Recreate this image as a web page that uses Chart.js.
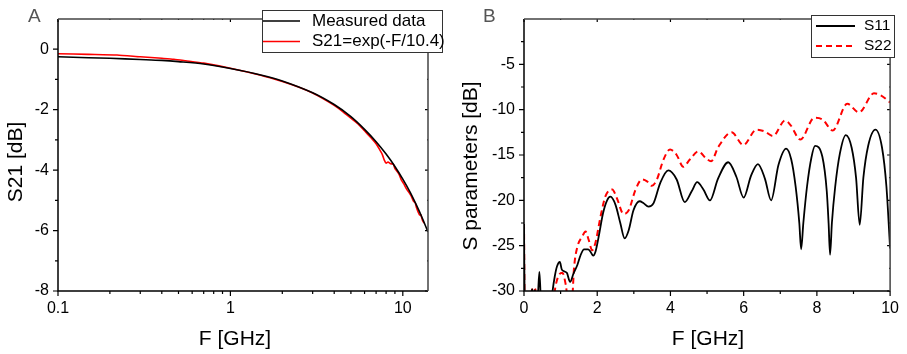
<!DOCTYPE html>
<html>
<head>
<meta charset="utf-8">
<title>S parameters</title>
<script src="https://cdn.jsdelivr.net/npm/chart.js@4.4.1/dist/chart.umd.min.js"></script>
<style>
    body { margin: 0; background: #fff; }
    #wrap { position: relative; width: 907px; height: 354px; }
    canvas { position: absolute; top: 0; }
    #chartA { left: 0; }
    #chartB { left: 453px; }
</style>
</head>
<body>
<div id="wrap">
    <canvas id="chartA" width="453" height="354"></canvas>
    <canvas id="chartB" width="454" height="354"></canvas>
</div>
<script>
// Panel A - S21 vs F (log axis)
var aFreq = [0.1, 0.15, 0.2, 0.3, 0.4, 0.5, 0.7, 1, 1.5, 2, 3, 4, 5, 6, 7, 8, 9, 10, 11, 12, 13, 14];
var aMeasured = [-0.25, -0.28, -0.30, -0.34, -0.37, -0.41, -0.49, -0.64, -0.85, -1.05, -1.44, -1.83, -2.23, -2.65, -3.06, -3.47, -3.88, -4.30, -4.72, -5.16, -5.60, -6.05];
var aFitFreq = [0.1, 0.15, 0.22, 0.3, 0.4, 0.47, 0.55, 0.7, 1, 1.5, 2, 2.5, 3, 3.5, 4, 4.5, 5, 5.5, 6, 6.5, 7, 7.3, 7.6, 7.8, 8.0, 8.2, 8.5, 8.8, 9.0, 9.2, 9.5, 9.8, 10.1, 10.5, 10.8, 11.2, 11.5, 11.8, 12.0, 12.3, 12.5, 12.7, 12.9, 13.1, 13.3];
var aFit = [-0.15, -0.17, -0.19, -0.25, -0.30, -0.33, -0.38, -0.46, -0.63, -0.86, -1.07, -1.26, -1.45, -1.66, -1.86, -2.07, -2.28, -2.47, -2.70, -2.91, -3.13, -3.30, -3.48, -3.66, -3.77, -3.73, -3.79, -3.80, -3.95, -4.02, -4.13, -4.32, -4.44, -4.62, -4.72, -4.86, -5.02, -5.08, -5.24, -5.40, -5.48, -5.47, -5.60, -5.70, -5.75];
var aXTicks = [0.1, 1, 10];
var aXMinor = [0.2, 0.3, 0.4, 0.5, 0.6, 0.7, 0.8, 0.9, 2, 3, 4, 5, 6, 7, 8, 9];
var aYTicks = [-8, -6, -4, -2, 0];
var aYMinor = [-7, -5, -3, -1];

// Panel B - S11 / S22 vs F
var bFreq11 = [0, 0.02, 0.1, 0.18, 0.22, 0.26, 0.3, 0.34, 0.38, 0.42, 0.46, 0.52, 0.65, 0.78, 0.84, 0.9, 0.98, 1.03, 1.08, 1.17, 1.26, 1.35, 1.46, 1.55, 1.64, 1.75, 1.82, 1.89, 1.95, 2.04, 2.16, 2.27, 2.36, 2.5, 2.63, 2.75, 2.86, 2.99, 3.16, 3.26, 3.4, 3.54, 3.72, 3.94, 4.17, 4.39, 4.58, 4.73, 4.9, 5.08, 5.3, 5.58, 5.8, 6.0, 6.2, 6.39, 6.58, 6.75, 6.95, 7.16, 7.3, 7.42, 7.52, 7.57, 7.63, 7.73, 7.85, 7.95, 8.15, 8.27, 8.32, 8.36, 8.41, 8.5, 8.63, 8.79, 8.95, 9.07, 9.17, 9.27, 9.4, 9.6, 9.78, 9.9, 10.0];
var bS11 = [-22.6, -32, -33, -31, -29.8, -30.5, -29.9, -31.5, -30.5, -27.9, -31, -34, -35, -30, -28.4, -27.3, -26.8, -27.6, -27.8, -28.0, -29.0, -28.1, -27.1, -26.0, -25.4, -25.4, -25.7, -26.1, -25.7, -24.0, -21.4, -20.0, -19.6, -20.5, -22.5, -24.2, -23.3, -21.1, -20.1, -20.3, -20.7, -20.3, -18.1, -16.7, -17.7, -20.2, -19.0, -18.0, -18.8, -20.0, -17.6, -15.8, -17.4, -19.7, -17.3, -16.0, -17.6, -20.0, -16.1, -14.3, -15.5, -18.5, -22.5, -25.4, -22.5, -18.5, -15.3, -14.0, -15.2, -19.0, -22.5, -26.0, -22.5, -18.5, -14.8, -12.8, -14.2, -17.5, -22.7, -17.5, -14.0, -12.2, -14.2, -18.5, -25.3];
var bFreq22 = [0, 0.02, 0.1, 0.18, 0.22, 0.27, 0.31, 0.35, 0.5, 0.8, 0.87, 0.96, 1.05, 1.14, 1.22, 1.3, 1.37, 1.46, 1.59, 1.68, 1.77, 1.86, 1.95, 2.09, 2.22, 2.41, 2.54, 2.72, 2.86, 3.04, 3.22, 3.36, 3.49, 3.63, 3.81, 3.99, 4.17, 4.35, 4.53, 4.76, 4.98, 5.11, 5.31, 5.67, 5.99, 6.35, 6.57, 6.8, 7.13, 7.28, 7.55, 7.93, 8.16, 8.43, 8.83, 9.15, 9.56, 9.74, 10.0];
var bS22 = [-22.6, -32, -33, -31, -29.8, -30.3, -29.8, -31, -34, -31, -29.3, -28.2, -28.0, -29.3, -31.5, -31.5, -27.3, -25.1, -24.0, -23.45, -24.4, -25.5, -24.7, -21.8, -19.6, -18.8, -19.8, -21.5, -21.1, -18.9, -17.7, -17.9, -18.4, -17.7, -15.5, -14.4, -15.0, -16.3, -15.5, -14.6, -15.4, -15.7, -14.1, -12.5, -13.9, -12.2, -12.4, -12.9, -11.2, -11.7, -13.3, -10.9, -11.1, -12.3, -9.35, -10.3, -8.2, -8.4, -9.2];
var bXTicks = [0, 2, 4, 6, 8, 10];
var bXMinor = [1, 3, 5, 7, 9];
var bYTicks = [-30, -25, -20, -15, -10, -5];
var bYMinor = [-27.5, -22.5, -17.5, -12.5, -7.5, -2.5];

Chart.defaults.font.family = 'Liberation Sans, Arial, sans-serif';
Chart.defaults.font.size = 16;
Chart.defaults.color = '#000';

function pts(xs, ys) {
    return xs.map(function(x, i) { return { x: x, y: ys[i] }; });
}

function fixTicks(values) {
    return function(scale) {
        scale.ticks = values.map(function(v) { return { value: v }; });
    };
}

function fixWidth(w) {
    return function(scale) { scale.width = w; };
}

function fixHeight(h) {
    return function(scale) { scale.height = h; };
}

// frame, minor ticks, axis titles, legend box and panel letter
var framePlugin = {
    id: 'frame',
    afterDatasetsDraw: function(chart, args, opts) {
        var ctx = chart.ctx;
        var area = chart.chartArea;
        var xs = chart.scales.x, ys = chart.scales.y;
        ctx.save();

        // ticks
        ctx.strokeStyle = '#000';
        ctx.lineWidth = 1.2;
        function xTick(v, len) {
            var p = xs.getPixelForValue(v);
            ctx.beginPath();
            ctx.moveTo(p, area.bottom);
            ctx.lineTo(p, area.bottom + len);
            ctx.moveTo(p, area.top);
            ctx.lineTo(p, area.top + len - 2);
            ctx.stroke();
        }
        function yTick(v, len) {
            var p = ys.getPixelForValue(v);
            ctx.beginPath();
            ctx.moveTo(area.left, p);
            ctx.lineTo(area.left - len, p);
            ctx.moveTo(area.right, p);
            ctx.lineTo(area.right - len + 2, p);
            ctx.stroke();
        }
        opts.xMajor.forEach(function(v) { xTick(v, 5); });
        opts.xMinor.forEach(function(v) { xTick(v, 3); });
        opts.yMajor.forEach(function(v) { yTick(v, 5); });
        opts.yMinor.forEach(function(v) { yTick(v, 3); });

        // frame
        ctx.lineWidth = 1.5;
        ctx.strokeStyle = '#000';
        ctx.beginPath();
        ctx.moveTo(area.left, area.top);
        ctx.lineTo(area.left, area.bottom);
        ctx.lineTo(area.right, area.bottom);
        ctx.stroke();
        ctx.strokeStyle = '#444';
        ctx.beginPath();
        ctx.moveTo(area.left, area.top);
        ctx.lineTo(area.right, area.top);
        ctx.lineTo(area.right, area.bottom);
        ctx.stroke();

        // legend
        var lg = opts.legend;
        ctx.fillStyle = '#fff';
        ctx.fillRect(lg.x, lg.y, lg.w, lg.h);
        ctx.lineWidth = 1;
        ctx.strokeStyle = '#333';
        ctx.strokeRect(lg.x + 0.5, lg.y + 0.5, lg.w, lg.h);
        ctx.font = lg.font + 'px Liberation Sans, Arial, sans-serif';
        ctx.textBaseline = 'middle';
        ctx.textAlign = 'left';
        chart.data.datasets.forEach(function(ds, i) {
            var y = lg.rows[i];
            ctx.strokeStyle = ds.borderColor;
            ctx.lineWidth = ds.borderWidth;
            ctx.setLineDash(ds.borderDash || []);
            ctx.beginPath();
            ctx.moveTo(lg.x1, y);
            ctx.lineTo(lg.x2, y);
            ctx.stroke();
            ctx.setLineDash([]);
            ctx.fillStyle = '#000';
            ctx.fillText(ds.label, lg.tx, y);
        });

        // axis titles
        ctx.fillStyle = '#000';
        ctx.font = '21px Liberation Sans, Arial, sans-serif';
        ctx.textAlign = 'center';
        ctx.fillText(opts.xTitle, opts.xTitlePos[0], opts.xTitlePos[1]);
        ctx.save();
        ctx.translate(opts.yTitlePos[0], opts.yTitlePos[1]);
        ctx.rotate(-Math.PI / 2);
        ctx.fillText(opts.yTitle, 0, 0);
        ctx.restore();

        // panel letter
        ctx.fillStyle = '#555';
        ctx.font = '19px Liberation Sans, Arial, sans-serif';
        ctx.textAlign = 'left';
        ctx.textBaseline = 'alphabetic';
        ctx.fillText(opts.letter, opts.letterPos[0], opts.letterPos[1]);
        ctx.restore();
    }
};

var chartA = new Chart(document.getElementById('chartA'), {
    type: 'line',
    data: {
        datasets: [{
            label: 'Measured data',
            data: pts(aFreq, aMeasured),
            borderColor: '#000',
            borderWidth: 1.6,
            tension: 0.3,
            pointRadius: 0
        }, {
            label: 'S21=exp(-F/10.4)',
            data: pts(aFitFreq, aFit),
            borderColor: '#ff0000',
            borderWidth: 1.6,
            tension: 0.2,
            pointRadius: 0
        }]
    },
    options: {
        responsive: false,
        animation: false,
        layout: { padding: { top: 19, right: 25, left: 0, bottom: 0 } },
        plugins: {
            legend: { display: false },
            tooltip: { enabled: false },
            frame: {
                xMajor: aXTicks, xMinor: aXMinor, yMajor: aYTicks, yMinor: aYMinor,
                xTitle: 'F [GHz]', xTitlePos: [235, 339],
                yTitle: 'S21 [dB]', yTitlePos: [16, 162],
                letter: 'A', letterPos: [28, 22],
                legend: { x: 262, y: 10, w: 180, h: 42, x1: 263, x2: 300, tx: 312, rows: [21, 41.5], font: 17 }
            }
        },
        scales: {
            x: {
                type: 'logarithmic',
                min: 0.1,
                max: 14,
                afterBuildTicks: fixTicks(aXTicks),
                afterFit: fixHeight(63),
                grid: { display: false, drawTicks: false },
                border: { display: false },
                ticks: { padding: 8, autoSkip: false, maxRotation: 0, callback: function(v) { return String(v); } }
            },
            y: {
                min: -8,
                max: 1,
                afterBuildTicks: fixTicks(aYTicks),
                afterFit: fixWidth(58),
                grid: { display: false, drawTicks: false },
                border: { display: false },
                ticks: { padding: 9, autoSkip: false }
            }
        }
    },
    plugins: [framePlugin]
});

var chartB = new Chart(document.getElementById('chartB'), {
    type: 'line',
    data: {
        datasets: [{
            label: 'S11',
            data: pts(bFreq11, bS11),
            borderColor: '#000',
            borderWidth: 1.8,
            cubicInterpolationMode: 'monotone',
            pointRadius: 0
        }, {
            label: 'S22',
            data: pts(bFreq22, bS22),
            borderColor: '#ff0000',
            borderWidth: 2,
            borderDash: [6, 4],
            cubicInterpolationMode: 'monotone',
            pointRadius: 0
        }]
    },
    options: {
        responsive: false,
        animation: false,
        layout: { padding: { top: 19, right: 14, left: 0, bottom: 0 } },
        plugins: {
            legend: { display: false },
            tooltip: { enabled: false },
            frame: {
                xMajor: bXTicks, xMinor: bXMinor, yMajor: bYTicks, yMinor: bYMinor,
                xTitle: 'F [GHz]', xTitlePos: [255, 339],
                yTitle: 'S parameters [dB]', yTitlePos: [18, 166],
                letter: 'B', letterPos: [30, 22],
                legend: { x: 358, y: 15, w: 83, h: 42, x1: 363, x2: 402, tx: 411, rows: [26, 46], font: 15.5 }
            }
        },
        scales: {
            x: {
                type: 'linear',
                min: 0,
                max: 10,
                afterBuildTicks: fixTicks(bXTicks),
                afterFit: fixHeight(63),
                grid: { display: false, drawTicks: false },
                border: { display: false },
                ticks: { padding: 8, autoSkip: false, maxRotation: 0 }
            },
            y: {
                min: -30,
                max: 0,
                afterBuildTicks: fixTicks(bYTicks),
                afterFit: fixWidth(71),
                grid: { display: false, drawTicks: false },
                border: { display: false },
                ticks: { padding: 9, autoSkip: false }
            }
        }
    },
    plugins: [framePlugin]
});
</script>
</body>
</html>
